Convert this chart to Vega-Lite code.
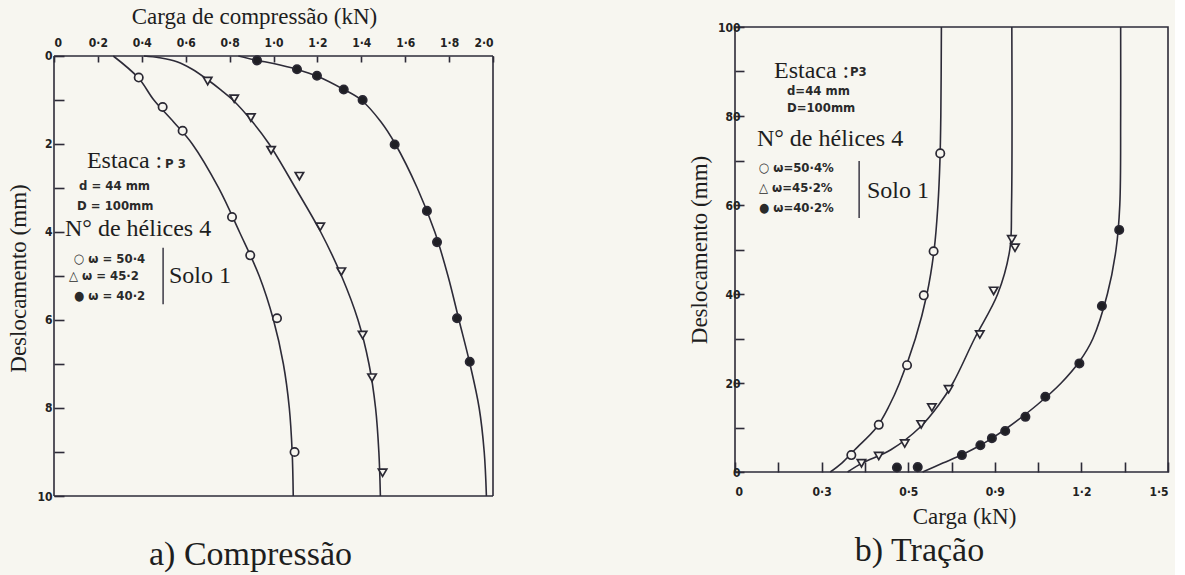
{
  "$schema": "https://vega.github.io/schema/vega-lite/v6.json",
  "background": "#f7f6f0",
  "padding": {"left": 7, "top": 5, "right": 5, "bottom": 5},
  "datasets": {
    "comp_pts": [
      {"serie": "50.4", "carga": 0.386, "desl": 0.49},
      {"serie": "50.4", "carga": 0.495, "desl": 1.16},
      {"serie": "50.4", "carga": 0.586, "desl": 1.70},
      {"serie": "50.4", "carga": 0.811, "desl": 3.66},
      {"serie": "50.4", "carga": 0.894, "desl": 4.53},
      {"serie": "50.4", "carga": 1.016, "desl": 5.96},
      {"serie": "50.4", "carga": 1.096, "desl": 9.0},
      {"serie": "45.2", "carga": 0.70, "desl": 0.57},
      {"serie": "45.2", "carga": 0.821, "desl": 0.97},
      {"serie": "45.2", "carga": 0.897, "desl": 1.40},
      {"serie": "45.2", "carga": 0.989, "desl": 2.14},
      {"serie": "45.2", "carga": 1.118, "desl": 2.73},
      {"serie": "45.2", "carga": 1.213, "desl": 3.88},
      {"serie": "45.2", "carga": 1.309, "desl": 4.9},
      {"serie": "45.2", "carga": 1.406, "desl": 6.34},
      {"serie": "45.2", "carga": 1.449, "desl": 7.31},
      {"serie": "45.2", "carga": 1.497, "desl": 9.47},
      {"serie": "40.2", "carga": 0.925, "desl": 0.10},
      {"serie": "40.2", "carga": 1.107, "desl": 0.30},
      {"serie": "40.2", "carga": 1.198, "desl": 0.45},
      {"serie": "40.2", "carga": 1.32, "desl": 0.76},
      {"serie": "40.2", "carga": 1.406, "desl": 1.0},
      {"serie": "40.2", "carga": 1.552, "desl": 2.01},
      {"serie": "40.2", "carga": 1.699, "desl": 3.52},
      {"serie": "40.2", "carga": 1.745, "desl": 4.23},
      {"serie": "40.2", "carga": 1.836, "desl": 5.96},
      {"serie": "40.2", "carga": 1.894, "desl": 6.95}
    ],
    "comp_curve": [
      {"serie": "50.4", "carga": 0.27, "desl": 0},
      {"serie": "50.4", "carga": 0.385, "desl": 0.5},
      {"serie": "50.4", "carga": 0.455, "desl": 1},
      {"serie": "50.4", "carga": 0.545, "desl": 1.5},
      {"serie": "50.4", "carga": 0.63, "desl": 2},
      {"serie": "50.4", "carga": 0.75, "desl": 3},
      {"serie": "50.4", "carga": 0.845, "desl": 4},
      {"serie": "50.4", "carga": 0.935, "desl": 5},
      {"serie": "50.4", "carga": 1.0, "desl": 6},
      {"serie": "50.4", "carga": 1.045, "desl": 7},
      {"serie": "50.4", "carga": 1.072, "desl": 8},
      {"serie": "50.4", "carga": 1.085, "desl": 9},
      {"serie": "50.4", "carga": 1.09, "desl": 10},
      {"serie": "45.2", "carga": 0.41, "desl": 0},
      {"serie": "45.2", "carga": 0.48, "desl": 0.04},
      {"serie": "45.2", "carga": 0.56, "desl": 0.13},
      {"serie": "45.2", "carga": 0.63, "desl": 0.3},
      {"serie": "45.2", "carga": 0.70, "desl": 0.54},
      {"serie": "45.2", "carga": 0.76, "desl": 0.77},
      {"serie": "45.2", "carga": 0.815, "desl": 1},
      {"serie": "45.2", "carga": 0.905, "desl": 1.5},
      {"serie": "45.2", "carga": 0.98, "desl": 2},
      {"serie": "45.2", "carga": 1.10, "desl": 3},
      {"serie": "45.2", "carga": 1.215, "desl": 4},
      {"serie": "45.2", "carga": 1.31, "desl": 5},
      {"serie": "45.2", "carga": 1.385, "desl": 6},
      {"serie": "45.2", "carga": 1.435, "desl": 7},
      {"serie": "45.2", "carga": 1.465, "desl": 8},
      {"serie": "45.2", "carga": 1.48, "desl": 9},
      {"serie": "45.2", "carga": 1.487, "desl": 10},
      {"serie": "40.2", "carga": 0.84, "desl": 0},
      {"serie": "40.2", "carga": 0.925, "desl": 0.1},
      {"serie": "40.2", "carga": 1.0, "desl": 0.17},
      {"serie": "40.2", "carga": 1.105, "desl": 0.3},
      {"serie": "40.2", "carga": 1.2, "desl": 0.46},
      {"serie": "40.2", "carga": 1.32, "desl": 0.76},
      {"serie": "40.2", "carga": 1.40, "desl": 1.0},
      {"serie": "40.2", "carga": 1.49, "desl": 1.5},
      {"serie": "40.2", "carga": 1.555, "desl": 2},
      {"serie": "40.2", "carga": 1.655, "desl": 3},
      {"serie": "40.2", "carga": 1.735, "desl": 4},
      {"serie": "40.2", "carga": 1.795, "desl": 5},
      {"serie": "40.2", "carga": 1.845, "desl": 6},
      {"serie": "40.2", "carga": 1.895, "desl": 7},
      {"serie": "40.2", "carga": 1.937, "desl": 8},
      {"serie": "40.2", "carga": 1.96, "desl": 9},
      {"serie": "40.2", "carga": 1.97, "desl": 10}
    ],
    "comp_heads": [
      {"t": "Estaca :", "carga": 0.150, "desl": 2.39},
      {"t": "N° de hélices 4", "carga": 0.05, "desl": 3.93},
      {"t": "Solo 1", "carga": 0.524, "desl": 5.0}
    ],
    "comp_params": [
      {"t": "P 3", "carga": 0.506, "desl": 2.45},
      {"t": "d = 44 mm", "carga": 0.114, "desl": 2.95},
      {"t": "D = 100mm", "carga": 0.105, "desl": 3.41},
      {"t": "○ ω = 50·4", "carga": 0.091, "desl": 4.61},
      {"t": "△ ω = 45·2", "carga": 0.068, "desl": 5.0},
      {"t": "● ω = 40·2", "carga": 0.091, "desl": 5.45}
    ],
    "comp_bracket": [{"carga": 0.497, "desl": 4.36, "desl2": 5.64}],
    "trac_pts": [
      {"serie": "50.4", "carga": 0.403, "desl": 3.8},
      {"serie": "50.4", "carga": 0.498, "desl": 10.6},
      {"serie": "50.4", "carga": 0.596, "desl": 24.0},
      {"serie": "50.4", "carga": 0.654, "desl": 39.7},
      {"serie": "50.4", "carga": 0.688, "desl": 49.6},
      {"serie": "50.4", "carga": 0.711, "desl": 71.6},
      {"serie": "45.2", "carga": 0.438, "desl": 1.95},
      {"serie": "45.2", "carga": 0.498, "desl": 3.6},
      {"serie": "45.2", "carga": 0.588, "desl": 6.4},
      {"serie": "45.2", "carga": 0.645, "desl": 10.7},
      {"serie": "45.2", "carga": 0.682, "desl": 14.5},
      {"serie": "45.2", "carga": 0.74, "desl": 18.6},
      {"serie": "45.2", "carga": 0.848, "desl": 30.9},
      {"serie": "45.2", "carga": 0.896, "desl": 40.7},
      {"serie": "45.2", "carga": 0.97, "desl": 50.4},
      {"serie": "45.2", "carga": 0.959, "desl": 52.3},
      {"serie": "40.2", "carga": 0.561, "desl": 1.0},
      {"serie": "40.2", "carga": 0.633, "desl": 1.1},
      {"serie": "40.2", "carga": 0.786, "desl": 3.8},
      {"serie": "40.2", "carga": 0.85, "desl": 6.0},
      {"serie": "40.2", "carga": 0.89, "desl": 7.6},
      {"serie": "40.2", "carga": 0.936, "desl": 9.2},
      {"serie": "40.2", "carga": 1.006, "desl": 12.4},
      {"serie": "40.2", "carga": 1.075, "desl": 16.9},
      {"serie": "40.2", "carga": 1.193, "desl": 24.4},
      {"serie": "40.2", "carga": 1.271, "desl": 37.3},
      {"serie": "40.2", "carga": 1.331, "desl": 54.4}
    ],
    "trac_curve": [
      {"serie": "50.4", "carga": 0.33, "desl": 0},
      {"serie": "50.4", "carga": 0.37, "desl": 2},
      {"serie": "50.4", "carga": 0.415, "desl": 5},
      {"serie": "50.4", "carga": 0.49, "desl": 10},
      {"serie": "50.4", "carga": 0.535, "desl": 15},
      {"serie": "50.4", "carga": 0.57, "desl": 20},
      {"serie": "50.4", "carga": 0.625, "desl": 30},
      {"serie": "50.4", "carga": 0.665, "desl": 40},
      {"serie": "50.4", "carga": 0.69, "desl": 50},
      {"serie": "50.4", "carga": 0.703, "desl": 60},
      {"serie": "50.4", "carga": 0.71, "desl": 70},
      {"serie": "50.4", "carga": 0.713, "desl": 80},
      {"serie": "50.4", "carga": 0.715, "desl": 100},
      {"serie": "45.2", "carga": 0.39, "desl": 0},
      {"serie": "45.2", "carga": 0.44, "desl": 2},
      {"serie": "45.2", "carga": 0.54, "desl": 5},
      {"serie": "45.2", "carga": 0.64, "desl": 10},
      {"serie": "45.2", "carga": 0.705, "desl": 15},
      {"serie": "45.2", "carga": 0.755, "desl": 20},
      {"serie": "45.2", "carga": 0.83, "desl": 30},
      {"serie": "45.2", "carga": 0.91, "desl": 40},
      {"serie": "45.2", "carga": 0.952, "desl": 50},
      {"serie": "45.2", "carga": 0.958, "desl": 60},
      {"serie": "45.2", "carga": 0.959, "desl": 100},
      {"serie": "40.2", "carga": 0.65, "desl": 0},
      {"serie": "40.2", "carga": 0.72, "desl": 2},
      {"serie": "40.2", "carga": 0.79, "desl": 4},
      {"serie": "40.2", "carga": 0.85, "desl": 6},
      {"serie": "40.2", "carga": 0.90, "desl": 8},
      {"serie": "40.2", "carga": 0.945, "desl": 10},
      {"serie": "40.2", "carga": 1.045, "desl": 15},
      {"serie": "40.2", "carga": 1.13, "desl": 20},
      {"serie": "40.2", "carga": 1.195, "desl": 25},
      {"serie": "40.2", "carga": 1.24, "desl": 30},
      {"serie": "40.2", "carga": 1.29, "desl": 40},
      {"serie": "40.2", "carga": 1.32, "desl": 50},
      {"serie": "40.2", "carga": 1.333, "desl": 60},
      {"serie": "40.2", "carga": 1.336, "desl": 80},
      {"serie": "40.2", "carga": 1.336, "desl": 100}
    ],
    "trac_heads": [
      {"t": "Estaca :", "carga": 0.135, "desl": 90.1},
      {"t": "N° de hélices 4", "carga": 0.076, "desl": 74.8},
      {"t": "Solo 1", "carga": 0.457, "desl": 63.1}
    ],
    "trac_params": [
      {"t": "P3", "carga": 0.398, "desl": 89.9},
      {"t": "d=44 mm", "carga": 0.18, "desl": 85.6},
      {"t": "D=100mm", "carga": 0.18, "desl": 81.8},
      {"t": "○ ω=50·4%", "carga": 0.083, "desl": 68.3},
      {"t": "△ ω=45·2%", "carga": 0.083, "desl": 63.8},
      {"t": "● ω=40·2%", "carga": 0.083, "desl": 59.3}
    ],
    "trac_bracket": [{"carga": 0.43, "desl": 57.1, "desl2": 69.9}]
  },
  "hconcat": [
    {
      "width": 439,
      "height": 469,
      "view": {"stroke": null},
      "title": {"text": "a) Compressão", "orient": "bottom", "font": "Liberation Serif", "fontSize": 34, "fontWeight": "normal", "color": "#1e1e1e", "offset": 36, "dx": -23},
      "layer": [
        {
          "data": {"name": "comp_curve"},
          "mark": {"type": "line", "interpolate": "catmull-rom", "color": "#2d2b38", "strokeWidth": 1.6},
          "encoding": {
            "x": {"field": "carga", "type": "quantitative", "scale": {"domain": [0, 2], "nice": false},
                  "axis": {"orient": "top", "offset": -29, "values": [0, 0.2, 0.4, 0.6, 0.8, 1.0, 1.2, 1.4, 1.6, 1.8, 2.0],
                           "labelExpr": "datum.value == 0 ? '0' : replace(format(datum.value, '.1f'), '.', '·')",
                           "tickSize": -6, "labelPadding": 13,
                           "title": "Carga de compressão (kN)", "titlePadding": 8, "titleX": 200, "titleAlign": "center"}},
            "y": {"field": "desl", "type": "quantitative", "scale": {"domain": [-0.659, 10], "nice": false, "zero": false, "reverse": true},
                  "axis": {"values": [0, 1, 2, 3, 4, 5, 6, 7, 8, 9, 10],
                           "labelExpr": "datum.value % 2 == 0 ? datum.label : ''",
                           "tickSize": -10, "labelPadding": 12,
                           "title": "Deslocamento (mm)", "titlePadding": 6, "titleY": 251}},
            "detail": {"field": "serie"},
            "order": {"field": "desl", "type": "quantitative"}
          }
        },
        {
          "data": {"values": [{}]},
          "mark": {"type": "rule", "color": "#2d2b38", "strokeWidth": 1.6},
          "encoding": {"y": {"datum": 0}}
        },
        {
          "data": {"values": [{}]},
          "mark": {"type": "rule", "color": "#2d2b38", "strokeWidth": 1.6},
          "encoding": {"y": {"datum": 10}}
        },
        {
          "data": {"values": [{}]},
          "mark": {"type": "rule", "color": "#2d2b38", "strokeWidth": 1.6},
          "encoding": {"x": {"datum": 0}, "y": {"datum": 0}, "y2": {"datum": 10}}
        },
        {
          "data": {"values": [{}]},
          "mark": {"type": "rule", "color": "#2d2b38", "strokeWidth": 1.6},
          "encoding": {"x": {"datum": 2}, "y": {"datum": 0}, "y2": {"datum": 10}}
        },
        {
          "data": {"name": "comp_pts"},
          "mark": {"type": "point", "filled": false, "size": 70, "strokeWidth": 1.7, "stroke": "#2a2833", "opacity": 1},
          "encoding": {
            "x": {"field": "carga", "type": "quantitative"},
            "y": {"field": "desl", "type": "quantitative"},
            "shape": {"field": "serie", "type": "nominal", "scale": {"domain": ["50.4", "45.2", "40.2"], "range": ["circle", "triangle-down", "circle"]}, "legend": null},
            "fill": {"field": "serie", "type": "nominal", "scale": {"domain": ["50.4", "45.2", "40.2"], "range": ["#f7f6f0", "#f7f6f0", "#1f1f24"]}, "legend": null}
          }
        },
        {
          "data": {"name": "comp_heads"},
          "mark": {"type": "text", "align": "left", "baseline": "middle", "font": "Liberation Serif", "fontSize": 24, "color": "#1e1e1e"},
          "encoding": {
            "x": {"field": "carga", "type": "quantitative"},
            "y": {"field": "desl", "type": "quantitative"},
            "text": {"field": "t"}
          }
        },
        {
          "data": {"name": "comp_params"},
          "mark": {"type": "text", "align": "left", "baseline": "middle", "font": "DejaVu Sans Condensed", "fontWeight": "bold", "fontSize": 13, "color": "#2a2a2a"},
          "encoding": {
            "x": {"field": "carga", "type": "quantitative"},
            "y": {"field": "desl", "type": "quantitative"},
            "text": {"field": "t"}
          }
        },
        {
          "data": {"name": "comp_bracket"},
          "mark": {"type": "rule", "color": "#2d2b38", "strokeWidth": 1.4},
          "encoding": {
            "x": {"field": "carga", "type": "quantitative"},
            "y": {"field": "desl", "type": "quantitative"},
            "y2": {"field": "desl2"}
          }
        }
      ]
    },
    {
      "width": 433,
      "height": 445,
      "title": {"text": "b) Tração", "orient": "bottom", "font": "Liberation Serif", "fontSize": 34, "fontWeight": "normal", "color": "#1e1e1e", "offset": 6, "dx": -32},
      "layer": [
        {
          "data": {"name": "trac_curve"},
          "mark": {"type": "line", "interpolate": "catmull-rom", "color": "#2d2b38", "strokeWidth": 1.6},
          "encoding": {
            "x": {"field": "carga", "type": "quantitative", "scale": {"domain": [0, 1.5], "nice": false},
                  "axis": {"values": [0, 0.15, 0.3, 0.45, 0.6, 0.75, 0.9, 1.05, 1.2, 1.35, 1.5],
                           "labelExpr": "abs(datum.value) < 0.01 ? '0' : abs(datum.value - 0.3) < 0.01 ? '0·3' : abs(datum.value - 0.6) < 0.01 ? '0·5' : abs(datum.value - 0.9) < 0.01 ? '0·9' : abs(datum.value - 1.2) < 0.01 ? '1·2' : abs(datum.value - 1.5) < 0.01 ? '1·5' : ''",
                           "tickSize": -10, "labelPadding": 24,
                           "title": "Carga (kN)", "titlePadding": 8, "titleX": 229, "titleAlign": "center"}},
            "y": {"field": "desl", "type": "quantitative", "scale": {"domain": [0, 100], "nice": false},
                  "axis": {"values": [0, 10, 20, 30, 40, 50, 60, 70, 80, 90, 100],
                           "labelExpr": "datum.value % 20 == 0 ? datum.label : ''",
                           "tickSize": -9, "labelPadding": 4,
                           "title": "Deslocamento (mm)", "titlePadding": 6}},
            "detail": {"field": "serie"},
            "order": {"field": "desl", "type": "quantitative"}
          }
        },
        {
          "data": {"name": "trac_pts"},
          "mark": {"type": "point", "filled": false, "size": 70, "strokeWidth": 1.7, "stroke": "#2a2833", "opacity": 1},
          "encoding": {
            "x": {"field": "carga", "type": "quantitative"},
            "y": {"field": "desl", "type": "quantitative"},
            "shape": {"field": "serie", "type": "nominal", "scale": {"domain": ["50.4", "45.2", "40.2"], "range": ["circle", "triangle-down", "circle"]}, "legend": null},
            "fill": {"field": "serie", "type": "nominal", "scale": {"domain": ["50.4", "45.2", "40.2"], "range": ["#f7f6f0", "#f7f6f0", "#1f1f24"]}, "legend": null}
          }
        },
        {
          "data": {"name": "trac_heads"},
          "mark": {"type": "text", "align": "left", "baseline": "middle", "font": "Liberation Serif", "fontSize": 24, "color": "#1e1e1e"},
          "encoding": {
            "x": {"field": "carga", "type": "quantitative"},
            "y": {"field": "desl", "type": "quantitative"},
            "text": {"field": "t"}
          }
        },
        {
          "data": {"name": "trac_params"},
          "mark": {"type": "text", "align": "left", "baseline": "middle", "font": "DejaVu Sans Condensed", "fontWeight": "bold", "fontSize": 13, "color": "#2a2a2a"},
          "encoding": {
            "x": {"field": "carga", "type": "quantitative"},
            "y": {"field": "desl", "type": "quantitative"},
            "text": {"field": "t"}
          }
        },
        {
          "data": {"name": "trac_bracket"},
          "mark": {"type": "rule", "color": "#2d2b38", "strokeWidth": 1.4},
          "encoding": {
            "x": {"field": "carga", "type": "quantitative"},
            "y": {"field": "desl", "type": "quantitative"},
            "y2": {"field": "desl2"}
          }
        }
      ]
    }
  ],
  "spacing": 193,
  "config": {
    "view": {"stroke": "#2d2b38", "strokeWidth": 1.6},
    "axis": {
      "domain": false, "grid": false,
      "tickColor": "#2d2b38", "tickWidth": 1.6,
      "labelFont": "DejaVu Sans Condensed", "labelFontWeight": "bold", "labelFontSize": 12, "labelColor": "#222222",
      "titleFont": "Liberation Serif", "titleFontWeight": "normal", "titleFontSize": 23, "titleColor": "#1e1e1e"
    }
  }
}
